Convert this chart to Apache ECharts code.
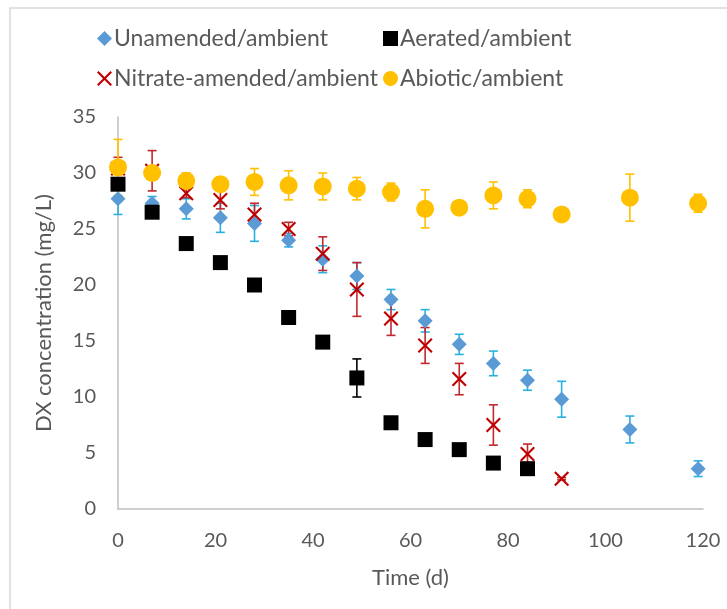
<!DOCTYPE html>
<html>
<head>
<meta charset="utf-8">
<script src="https://cdn.jsdelivr.net/npm/echarts@6/dist/echarts.min.js"></script>
<style>
  html, body { margin: 0; padding: 0; background: #fff; }
  #chart { width: 727px; height: 609px; }
</style>
</head>
<body>
<div id="chart"></div>
<script>
// Sampling days
const daysUnamended = [0, 7, 14, 21, 28, 35, 42, 49, 56, 63, 70, 77, 84, 91, 105, 119];
const daysAerated   = [0, 7, 14, 21, 28, 35, 42, 49, 56, 63, 70, 77, 84];
const daysNitrate   = [0, 7, 14, 21, 28, 35, 42, 49, 56, 63, 70, 77, 84, 91];
const daysAbiotic   = [0, 7, 14, 21, 28, 35, 42, 49, 56, 63, 70, 77, 84, 91, 105, 119];

// DX concentration (mg/L) and standard deviations
const unamended    = [27.7, 27.3, 26.8, 26.0, 25.5, 24.0, 22.3, 20.8, 18.7, 16.8, 14.7, 13.0, 11.5, 9.8, 7.1, 3.6];
const unamendedErr = [1.4, 0.6, 0.9, 1.3, 1.6, 0.6, 1.2, 1.2, 0.9, 1.0, 0.9, 1.1, 0.9, 1.6, 1.2, 0.7];

const aerated    = [29.0, 26.5, 23.7, 22.0, 20.0, 17.1, 14.9, 11.7, 7.7, 6.2, 5.3, 4.1, 3.6];
const aeratedErr = [0.3, 0.2, 0.2, 0.4, 0.2, 0.4, 0.2, 1.7, 0.3, 0.2, 0.2, 0.2, 0.2];

const nitrate    = [30.4, 30.2, 28.2, 27.6, 26.3, 25.0, 22.8, 19.6, 17.0, 14.6, 11.6, 7.5, 4.9, 2.7];
const nitrateErr = [1.0, 1.8, 0.4, 0.8, 1.0, 0.6, 1.5, 2.4, 1.5, 1.6, 1.4, 1.8, 0.9, 0.1];

const abiotic    = [30.5, 30.0, 29.3, 29.0, 29.2, 28.9, 28.8, 28.6, 28.3, 26.8, 26.9, 28.0, 27.7, 26.3, 27.8, 27.3];
const abioticErr = [2.5, 0.6, 0.7, 0.6, 1.2, 1.3, 1.2, 1.0, 0.8, 1.7, 0.3, 1.2, 0.8, 0.2, 2.1, 0.8];

const xTicks = [0, 20, 40, 60, 80, 100, 120];
const yTicks = [0, 5, 10, 15, 20, 25, 30, 35];

const FONT = 'Lato';
const TEXT = '#595959';
const X_SYMBOL = 'path://M2,0 L10,8 L18,0 L20,2 L12,10 L20,18 L18,20 L10,12 L2,20 L0,18 L8,10 L0,2 Z';

function points(xs, ys) {
  return xs.map((x, i) => [x, ys[i]]);
}

// Vertical error bars with caps, one per measurement
function errorBars(name, xs, ys, errs, color) {
  return {
    type: 'custom',
    name: name + ' SD',
    silent: true,
    itemStyle: { color: color },
    data: xs.map((x, i) => [x, ys[i] - errs[i], ys[i] + errs[i]]),
    encode: { x: 0, y: [1, 2] },
    renderItem: function (params, api) {
      const lo = api.coord([api.value(0), api.value(1)]);
      const hi = api.coord([api.value(0), api.value(2)]);
      const w = 4.5;
      const style = { stroke: color, lineWidth: 1.6, fill: null };
      return {
        type: 'group',
        children: [
          { type: 'line', shape: { x1: lo[0], y1: lo[1], x2: hi[0], y2: hi[1] }, style: style },
          { type: 'line', shape: { x1: lo[0] - w, y1: lo[1], x2: lo[0] + w, y2: lo[1] }, style: style },
          { type: 'line', shape: { x1: hi[0] - w, y1: hi[1], x2: hi[0] + w, y2: hi[1] }, style: style }
        ]
      };
    },
    z: 2
  };
}

function scatter(name, xs, ys, symbol, size, color) {
  return {
    type: 'scatter',
    name: name,
    data: points(xs, ys),
    symbol: symbol,
    symbolSize: size,
    itemStyle: { color: color, opacity: 1 },
    z: 3
  };
}

const names = ['Unamended/ambient', 'Aerated/ambient', 'Nitrate-amended/ambient', 'Abiotic/ambient'];

function legendItem(name, left, top, icon) {
  return {
    data: [{ name: name, icon: icon }],
    left: left,
    top: top,
    itemWidth: 15,
    itemHeight: 15,
    itemGap: 5,
    textStyle: { fontFamily: FONT, fontSize: 23, color: TEXT, padding: [0, 0, 0, -3] },
    selectedMode: false
  };
}

const chart = echarts.init(document.getElementById('chart'), null, { renderer: 'canvas' });

chart.setOption({
  backgroundColor: '#fff',
  animation: false,
  graphic: [{
    type: 'rect',
    shape: { x: 10, y: 8, width: 760, height: 650 },
    style: { fill: null, stroke: '#D9D9D9', lineWidth: 1.5 },
    silent: true,
    z: 0
  }],
  legend: [
    legendItem(names[0], 92, 22, 'diamond'),
    legendItem(names[1], 378, 22, 'rect'),
    legendItem(names[2], 92, 62, X_SYMBOL),
    legendItem(names[3], 378, 62, 'circle')
  ],
  grid: { left: 118, right: 24, top: 117, bottom: 100, containLabel: false },
  xAxis: {
    type: 'value',
    min: xTicks[0],
    max: xTicks[xTicks.length - 1],
    interval: 20,
    name: 'Time (d)',
    nameLocation: 'middle',
    nameGap: 58,
    nameTextStyle: { fontFamily: FONT, fontSize: 22, color: TEXT },
    axisLine: { show: true, lineStyle: { color: '#BFBFBF', width: 1.5 } },
    axisTick: { show: false },
    splitLine: { show: false },
    axisLabel: { fontFamily: FONT, fontSize: 20, color: TEXT, margin: 22 }
  },
  yAxis: {
    type: 'value',
    min: yTicks[0],
    max: yTicks[yTicks.length - 1],
    interval: 5,
    name: 'DX concentration (mg/L)',
    nameLocation: 'middle',
    nameGap: 63,
    nameTextStyle: { fontFamily: FONT, fontSize: 22, color: TEXT },
    axisLine: { show: true, lineStyle: { color: '#BFBFBF', width: 1.5 } },
    axisTick: { show: false },
    splitLine: { show: false },
    axisLabel: { fontFamily: FONT, fontSize: 20, color: TEXT, margin: 22 }
  },
  series: [
    errorBars(names[0], daysUnamended, unamended, unamendedErr, '#2AB0E0'),
    scatter(names[0], daysUnamended, unamended, 'diamond', 15, '#5B9BD5'),
    errorBars(names[1], daysAerated, aerated, aeratedErr, '#000000'),
    scatter(names[1], daysAerated, aerated, 'rect', 15, '#000000'),
    errorBars(names[2], daysNitrate, nitrate, nitrateErr, '#C0282D'),
    scatter(names[2], daysNitrate, nitrate, X_SYMBOL, 15, '#C00000'),
    errorBars(names[3], daysAbiotic, abiotic, abioticErr, '#FFC000'),
    scatter(names[3], daysAbiotic, abiotic, 'circle', 18, '#FFC000')
  ]
});
</script>
</body>
</html>
